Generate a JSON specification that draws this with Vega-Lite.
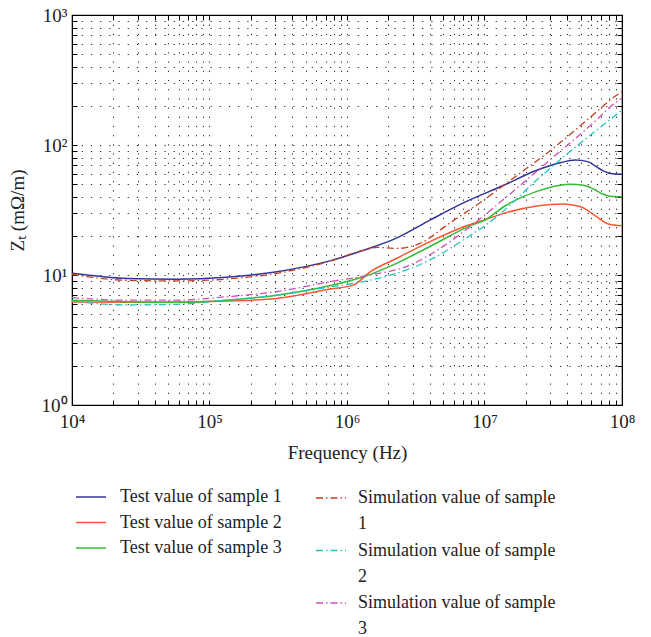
{
  "$schema": "https://vega.github.io/schema/vega-lite/v6.json",
  "autosize": "none",
  "width": 550,
  "height": 390,
  "padding": {"left": 72, "top": 15, "right": 29, "bottom": 232},
  "background": "white",
  "config": {
    "font": "Liberation Serif",
    "view": {"stroke": "black", "strokeWidth": 1.2},
    "style": {"guide-label": {"lineHeight": 26}},
    "axis": {
      "labelFont": "Liberation Serif",
      "titleFont": "Liberation Serif",
      "labelFontSize": 19,
      "titleFontSize": 19,
      "labelColor": "#222",
      "titleColor": "#222",
      "titleFontWeight": "normal",
      "domainColor": "black",
      "tickColor": "black",
      "gridColor": "black",
      "gridDash": [1.2, 8],
      "gridOpacity": 0.85,
      "gridWidth": 1,
      "tickSize": -5,
      "labelOverlap": false,
      "labelFlush": false
    },
    "legend": {
      "labelFont": "Liberation Serif",
      "labelFontSize": 18,
      "labelColor": "#222",
      "labelLimit": 0,
      "padding": 0
    }
  },
  "data": {
    "values": [
      {"series": "Test value of sample 1", "f": 10000, "z": 10.3},
      {"series": "Test value of sample 1", "f": 25100, "z": 9.4},
      {"series": "Test value of sample 1", "f": 57500, "z": 9.27},
      {"series": "Test value of sample 1", "f": 132000, "z": 9.6},
      {"series": "Test value of sample 1", "f": 309000, "z": 10.6},
      {"series": "Test value of sample 1", "f": 759000, "z": 12.9},
      {"series": "Test value of sample 1", "f": 1320000, "z": 15.5},
      {"series": "Test value of sample 1", "f": 2290000, "z": 19.2},
      {"series": "Test value of sample 1", "f": 3980000, "z": 26.3},
      {"series": "Test value of sample 1", "f": 7080000, "z": 36},
      {"series": "Test value of sample 1", "f": 13800000, "z": 49},
      {"series": "Test value of sample 1", "f": 24000000, "z": 64},
      {"series": "Test value of sample 1", "f": 35500000, "z": 73},
      {"series": "Test value of sample 1", "f": 45700000, "z": 76.5},
      {"series": "Test value of sample 1", "f": 56200000, "z": 74.5},
      {"series": "Test value of sample 1", "f": 63100000, "z": 69.5},
      {"series": "Test value of sample 1", "f": 72400000, "z": 63.5},
      {"series": "Test value of sample 1", "f": 85100000, "z": 60},
      {"series": "Test value of sample 1", "f": 100000000, "z": 59.5},

      {"series": "Test value of sample 2", "f": 10000, "z": 6.2},
      {"series": "Test value of sample 2", "f": 25100, "z": 6.17},
      {"series": "Test value of sample 2", "f": 57500, "z": 6.17},
      {"series": "Test value of sample 2", "f": 132000, "z": 6.3},
      {"series": "Test value of sample 2", "f": 309000, "z": 6.6},
      {"series": "Test value of sample 2", "f": 759000, "z": 7.8},
      {"series": "Test value of sample 2", "f": 1120000, "z": 8.4},
      {"series": "Test value of sample 2", "f": 1480000, "z": 10.6},
      {"series": "Test value of sample 2", "f": 2290000, "z": 13.4},
      {"series": "Test value of sample 2", "f": 3980000, "z": 18},
      {"series": "Test value of sample 2", "f": 7080000, "z": 23.5},
      {"series": "Test value of sample 2", "f": 10000000, "z": 26.5},
      {"series": "Test value of sample 2", "f": 13800000, "z": 29.8},
      {"series": "Test value of sample 2", "f": 24000000, "z": 34},
      {"series": "Test value of sample 2", "f": 37200000, "z": 35.2},
      {"series": "Test value of sample 2", "f": 50100000, "z": 33.5},
      {"series": "Test value of sample 2", "f": 65300000, "z": 28.1},
      {"series": "Test value of sample 2", "f": 79400000, "z": 24.7},
      {"series": "Test value of sample 2", "f": 100000000, "z": 23.9},

      {"series": "Test value of sample 3", "f": 10000, "z": 6.4},
      {"series": "Test value of sample 3", "f": 25100, "z": 6.24},
      {"series": "Test value of sample 3", "f": 57500, "z": 6.17},
      {"series": "Test value of sample 3", "f": 132000, "z": 6.4},
      {"series": "Test value of sample 3", "f": 309000, "z": 7.0},
      {"series": "Test value of sample 3", "f": 759000, "z": 8.3},
      {"series": "Test value of sample 3", "f": 1320000, "z": 9.7},
      {"series": "Test value of sample 3", "f": 2290000, "z": 12.3},
      {"series": "Test value of sample 3", "f": 3980000, "z": 16.5},
      {"series": "Test value of sample 3", "f": 7940000, "z": 24},
      {"series": "Test value of sample 3", "f": 10000000, "z": 26.3},
      {"series": "Test value of sample 3", "f": 13800000, "z": 33.5},
      {"series": "Test value of sample 3", "f": 24000000, "z": 44},
      {"series": "Test value of sample 3", "f": 41700000, "z": 50},
      {"series": "Test value of sample 3", "f": 52500000, "z": 49},
      {"series": "Test value of sample 3", "f": 63100000, "z": 45.5},
      {"series": "Test value of sample 3", "f": 72400000, "z": 42},
      {"series": "Test value of sample 3", "f": 85100000, "z": 40.2},
      {"series": "Test value of sample 3", "f": 100000000, "z": 40},

      {"series": "Simulation value of sample 1", "f": 10000, "z": 10.1},
      {"series": "Simulation value of sample 1", "f": 25100, "z": 9.1},
      {"series": "Simulation value of sample 1", "f": 57500, "z": 9.0},
      {"series": "Simulation value of sample 1", "f": 132000, "z": 9.3},
      {"series": "Simulation value of sample 1", "f": 309000, "z": 10.3},
      {"series": "Simulation value of sample 1", "f": 759000, "z": 12.8},
      {"series": "Simulation value of sample 1", "f": 1260000, "z": 15.3},
      {"series": "Simulation value of sample 1", "f": 1660000, "z": 16.3},
      {"series": "Simulation value of sample 1", "f": 2290000, "z": 16.0},
      {"series": "Simulation value of sample 1", "f": 3390000, "z": 17.5},
      {"series": "Simulation value of sample 1", "f": 5560000, "z": 25},
      {"series": "Simulation value of sample 1", "f": 9270000, "z": 36},
      {"series": "Simulation value of sample 1", "f": 17100000, "z": 58},
      {"series": "Simulation value of sample 1", "f": 29900000, "z": 90},
      {"series": "Simulation value of sample 1", "f": 65300000, "z": 180},
      {"series": "Simulation value of sample 1", "f": 85100000, "z": 229},
      {"series": "Simulation value of sample 1", "f": 100000000, "z": 257},

      {"series": "Simulation value of sample 2", "f": 10000, "z": 6.3},
      {"series": "Simulation value of sample 2", "f": 25100, "z": 5.88},
      {"series": "Simulation value of sample 2", "f": 57500, "z": 5.95},
      {"series": "Simulation value of sample 2", "f": 132000, "z": 6.4},
      {"series": "Simulation value of sample 2", "f": 309000, "z": 7.0},
      {"series": "Simulation value of sample 2", "f": 759000, "z": 8.1},
      {"series": "Simulation value of sample 2", "f": 1320000, "z": 8.9},
      {"series": "Simulation value of sample 2", "f": 2290000, "z": 10.3},
      {"series": "Simulation value of sample 2", "f": 3980000, "z": 13.0},
      {"series": "Simulation value of sample 2", "f": 7010000, "z": 18.6},
      {"series": "Simulation value of sample 2", "f": 12300000, "z": 28.1},
      {"series": "Simulation value of sample 2", "f": 24000000, "z": 53.8},
      {"series": "Simulation value of sample 2", "f": 37600000, "z": 81},
      {"series": "Simulation value of sample 2", "f": 65300000, "z": 130},
      {"series": "Simulation value of sample 2", "f": 100000000, "z": 185},

      {"series": "Simulation value of sample 3", "f": 10000, "z": 6.7},
      {"series": "Simulation value of sample 3", "f": 25100, "z": 6.4},
      {"series": "Simulation value of sample 3", "f": 57500, "z": 6.4},
      {"series": "Simulation value of sample 3", "f": 132000, "z": 6.8},
      {"series": "Simulation value of sample 3", "f": 309000, "z": 7.45},
      {"series": "Simulation value of sample 3", "f": 759000, "z": 8.9},
      {"series": "Simulation value of sample 3", "f": 1480000, "z": 10.0},
      {"series": "Simulation value of sample 3", "f": 2690000, "z": 11.6},
      {"series": "Simulation value of sample 3", "f": 4740000, "z": 16},
      {"series": "Simulation value of sample 3", "f": 7850000, "z": 23.5},
      {"series": "Simulation value of sample 3", "f": 14500000, "z": 40},
      {"series": "Simulation value of sample 3", "f": 29900000, "z": 76.7},
      {"series": "Simulation value of sample 3", "f": 65300000, "z": 156},
      {"series": "Simulation value of sample 3", "f": 85100000, "z": 203},
      {"series": "Simulation value of sample 3", "f": 100000000, "z": 229}
    ]
  },
  "resolve": {"axis": {"x": "independent", "y": "independent"}},
  "layer": [
    {
      "transform": [{"filter": "indexof(datum.series, 'Test') == 0"}],
      "mark": {"type": "line", "strokeWidth": 1.5, "interpolate": "monotone"},
      "encoding": {
        "x": {
          "field": "f",
          "type": "quantitative",
          "scale": {"type": "log", "domain": [10000, 100000000], "nice": false},
          "axis": {
            "orient": "bottom",
            "title": "Frequency (Hz)",
            "titlePadding": 12,
            "labelPadding": 12,
            "values": [10000,20000,30000,40000,50000,60000,70000,80000,90000,100000,200000,300000,400000,500000,600000,700000,800000,900000,1000000,2000000,3000000,4000000,5000000,6000000,7000000,8000000,9000000,10000000,20000000,30000000,40000000,50000000,60000000,70000000,80000000,90000000,100000000],
            "labelExpr": "abs(log(datum.value)/LN10 - round(log(datum.value)/LN10)) < 0.001 ? '10' + ['⁰','¹','²','³','⁴','⁵','⁶','⁷','⁸'][round(log(datum.value)/LN10)] : ''"
          }
        },
        "y": {
          "field": "z",
          "type": "quantitative",
          "scale": {"type": "log", "domain": [1, 1000], "nice": false},
          "axis": {
            "orient": "left",
            "title": "Zₜ (mΩ/m)",
            "titlePadding": 14,
            "labelPadding": 10,
            "values": [1,2,3,4,5,6,7,8,9,10,20,30,40,50,60,70,80,90,100,200,300,400,500,600,700,800,900,1000],
            "labelExpr": "abs(log(datum.value)/LN10 - round(log(datum.value)/LN10)) < 0.001 ? '10' + ['⁰','¹','²','³','⁴','⁵','⁶','⁷','⁸'][round(log(datum.value)/LN10)] : ''"
          }
        },
        "color": {
          "field": "series",
          "type": "nominal",
          "scale": {
            "domain": ["Test value of sample 1", "Test value of sample 2", "Test value of sample 3"],
            "range": ["#33339a", "#ff5533", "#33bb33"]
          },
          "legend": {
            "title": null,
            "orient": "none",
            "legendX": 3,
            "legendY": 466,
            "direction": "vertical",
            "symbolType": "stroke",
            "symbolSize": 900,
            "symbolStrokeWidth": 1.5,
            "labelOffset": 13,
            "rowPadding": 0.5
          }
        }
      }
    },
    {
      "transform": [{"filter": "indexof(datum.series, 'Simulation') == 0"}],
      "mark": {"type": "line", "strokeWidth": 1.3, "strokeDash": [7, 3, 1.5, 3], "interpolate": "monotone"},
      "encoding": {
        "x": {
          "field": "f",
          "type": "quantitative",
          "axis": {
            "orient": "top",
            "title": null,
            "grid": false,
            "labels": false,
            "values": [10000,20000,30000,40000,50000,60000,70000,80000,90000,100000,200000,300000,400000,500000,600000,700000,800000,900000,1000000,2000000,3000000,4000000,5000000,6000000,7000000,8000000,9000000,10000000,20000000,30000000,40000000,50000000,60000000,70000000,80000000,90000000,100000000]
          }
        },
        "y": {
          "field": "z",
          "type": "quantitative",
          "axis": {
            "orient": "right",
            "title": null,
            "grid": false,
            "labels": false,
            "values": [1,2,3,4,5,6,7,8,9,10,20,30,40,50,60,70,80,90,100,200,300,400,500,600,700,800,900,1000]
          }
        },
        "stroke": {
          "field": "series",
          "type": "nominal",
          "scale": {
            "domain": ["Simulation value of sample 1", "Simulation value of sample 2", "Simulation value of sample 3"],
            "range": ["#c0401e", "#22c4c4", "#d050b0"]
          },
          "legend": {
            "title": null,
            "orient": "none",
            "legendX": 243,
            "legendY": 467,
            "direction": "vertical",
            "symbolType": "stroke",
            "symbolSize": 900,
            "symbolStrokeWidth": 1.3,
            "symbolDash": [7, 3, 1.5, 3],
            "labelOffset": 11,
            "rowPadding": 1.5,
            "labelExpr": "[slice(datum.label, 0, length(datum.label) - 2), slice(datum.label, length(datum.label) - 1)]"
          }
        }
      }
    }
  ]
}
